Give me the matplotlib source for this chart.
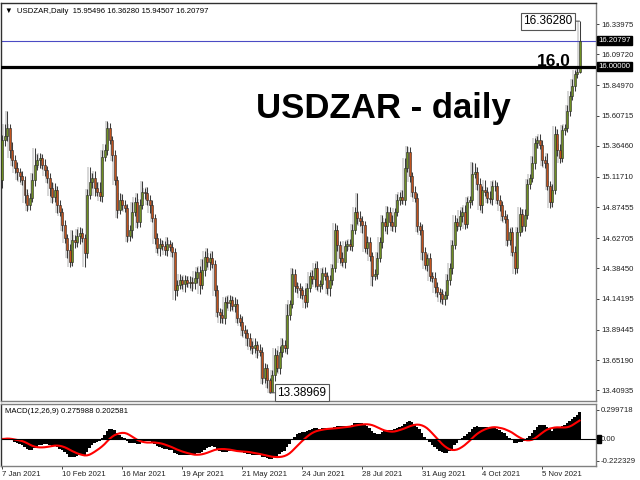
import numpy as np
import pandas as pd
import matplotlib
matplotlib.use("Agg")
import matplotlib.pyplot as plt
from matplotlib import transforms

# Daily closes (USDZAR)
closes = [
    15.412, 15.444, 15.508, 15.332, 15.252, 15.188, 15.156, 15.124, 15.092, 14.972,
    14.892, 14.948, 15.092, 15.212, 15.252, 15.268, 15.212, 15.172, 15.108, 15.028,
    14.956, 15.012, 14.892, 14.836, 14.732, 14.628, 14.532, 14.436, 14.612, 14.596,
    14.644, 14.668, 14.628, 14.508, 14.972, 15.076, 15.108, 15.028, 14.996, 14.964,
    15.276, 15.332, 15.508, 15.412, 15.292, 15.092, 14.852, 14.932, 14.892, 14.868,
    14.644, 14.692, 14.836, 14.916, 14.756, 14.892, 14.996, 14.988, 14.932, 14.892,
    14.788, 14.628, 14.548, 14.580, 14.564, 14.532, 14.580, 14.556, 14.516, 14.212,
    14.252, 14.292, 14.260, 14.292, 14.268, 14.276,
    14.268, 14.308, 14.356, 14.252, 14.372, 14.476, 14.436, 14.468, 14.420, 14.212,
    14.036, 14.012, 13.988, 14.116, 14.108, 14.132, 14.084, 14.100, 13.988, 13.956,
    13.892, 13.868, 13.828, 13.764, 13.748, 13.772, 13.732, 13.716, 13.508, 13.588,
    13.492, 13.400, 13.532, 13.692, 13.588, 13.716, 13.772, 13.748, 14.012,
    14.100, 14.340, 14.244, 14.228, 14.212, 14.172, 14.116, 14.228, 14.324, 14.300,
    14.388, 14.244, 14.260, 14.348, 14.324, 14.228, 14.292, 14.388, 14.692, 14.572,
    14.468, 14.436, 14.564, 14.580, 14.564, 14.692, 14.836, 14.788, 14.764, 14.732,
    14.548, 14.596, 14.484, 14.324, 14.340, 14.468, 14.596, 14.756, 14.724, 14.836,
    14.756, 14.724, 14.836, 14.932, 14.956, 14.932, 15.188, 15.316, 15.124, 14.996,
    14.948, 14.724, 14.692, 14.516, 14.412, 14.468, 14.324, 14.308, 14.236, 14.196,
    14.180, 14.140, 14.172, 14.292, 14.388, 14.572, 14.756, 14.724, 14.804, 14.836,
    14.740, 14.916, 14.932, 15.140, 15.156, 15.060, 14.892, 15.012, 14.996, 14.948,
    14.940, 15.044,
    15.044, 14.932, 14.892, 14.804, 14.780, 14.612, 14.676, 14.516, 14.388, 14.676,
    14.820, 14.724, 14.812, 15.060, 15.108, 15.228, 15.388, 15.412, 15.372, 15.252,
    15.228, 15.044, 14.916, 15.012, 15.460, 15.332, 15.268, 15.492, 15.508, 15.644,
    15.764, 15.844, 15.940, 15.95496, 16.20797,
]
first_open = 15.092

# wick lengths above / below the body, in hundredths
upper_wick = [
    4, 10, 14, 3, 6, 4, 5, 3, 4, 3, 5, 4, 6, 14, 5, 4, 3, 5, 3, 4,
    5, 6, 3, 4, 3, 4, 3, 5, 8, 4, 6, 5, 4, 3, 5, 12, 4, 6, 5, 8,
    6, 5, 6, 4, 3, 4, 3, 6, 5, 4, 3, 4, 8, 4, 7, 5, 9, 3, 5, 4,
    4, 3, 4, 5, 3, 4, 6, 3, 4, 3, 4, 5, 3, 4, 3, 5, 4, 6, 4, 5,
    9, 5, 7, 4, 6, 3, 4, 3, 5, 4, 5, 4, 3, 6, 4, 3, 5, 4, 3, 4,
    4, 6, 3, 5, 4, 4, 3, 2, 4, 6, 4, 5, 6, 4, 9, 3, 5, 4, 3, 4,
    3, 6, 4, 3, 5, 4, 6, 3, 4, 5, 3, 4, 3, 6, 4, 3, 5, 4, 3, 4,
    5, 4, 15, 6, 4, 3, 5, 4, 3, 4, 5, 4, 6, 3, 5, 4, 6, 3, 5, 4,
    6, 8, 5, 4, 3, 5, 4, 3, 5, 4, 3, 4, 3, 5, 4, 3, 4, 3, 5, 4,
    4, 6, 3, 5, 4, 6, 4, 3, 10, 7, 4, 5, 3, 8, 4, 6, 4, 5, 3, 4,
    3, 5, 4, 3, 4, 5, 4, 6, 4, 5, 4, 3, 6, 4, 3, 5, 4, 3, 8, 4,
    5, 6, 4, 5, 4, 3, 5, 4, 6, 3, 4, 15.483,
]
lower_wick = [
    6, 5, 4, 6, 5, 4, 6, 5, 4, 6, 5, 4, 3, 5, 4, 6, 3, 5, 4, 6,
    5, 4, 6, 3, 5, 4, 6, 4, 3, 5, 4, 6, 3, 11, 4, 3, 5, 6, 3, 4,
    5, 3, 4, 3, 5, 4, 6, 3, 4, 3, 5, 4, 6, 3, 5, 4, 3, 5, 4, 6,
    3, 5, 4, 6, 3, 4, 5, 3, 4, 8, 5, 3, 4, 6, 3, 4, 6, 5, 4, 7,
    3, 5, 4, 6, 3, 5, 4, 6, 4, 5, 4, 6, 3, 5, 4, 3, 5, 4, 6, 3,
    5, 4, 6, 3, 5, 4, 6, 1.031, 0.5, 5, 3, 5, 4, 3, 5, 4, 3, 5, 4, 6,
    3, 5, 4, 3, 4, 6, 3, 5, 4, 3, 5, 6, 4, 3, 5, 4, 3, 5, 4, 3,
    4, 3, 5, 4, 6, 3, 5, 4, 8, 3, 4, 3, 5, 4, 6, 3, 4, 5, 3, 4,
    3, 4, 3, 5, 4, 3, 5, 4, 6, 3, 5, 4, 3, 5, 4, 6, 4, 5, 3, 4,
    5, 3, 4, 3, 5, 4, 3, 5, 4, 3, 5, 4, 6, 3, 4, 3, 5, 4, 3, 5,
    4, 3, 5, 4, 3, 5, 4, 3, 5, 4, 3, 4, 3, 5, 4, 3, 5, 4, 3, 5,
    4, 3, 5, 4, 3, 4, 3, 4, 3, 4, 3, 0.989,
]

date_labels = ["7 Jan 2021", "10 Feb 2021", "16 Mar 2021", "19 Apr 2021", "21 May 2021",
               "24 Jun 2021", "28 Jul 2021", "31 Aug 2021", "4 Oct 2021", "5 Nov 2021"]
date_bars = [0, 24, 48, 72, 96, 120, 144, 168, 192, 216]

price_ticks = [16.33975, 16.09720, 15.84970, 15.60715, 15.36460, 15.11710, 14.87455,
               14.62705, 14.38450, 14.14195, 13.89445, 13.65190, 13.40935]
bid_line = 16.20797
level_line = 16.0
macd_max_label = 0.299718
macd_min_label = -0.222329
macd_shown = (0.275988, 0.202581)   # values printed in the indicator header

# build OHLC
close = np.array(closes)
opn = np.concatenate([[first_open], close[:-1]])
top = np.maximum(opn, close)
bot = np.minimum(opn, close)
high = top + np.array(upper_wick) / 100
low = bot - np.array(lower_wick) / 100
x = np.arange(len(close))
up = close >= opn

# MACD(12,26,9) as in MT4 (signal = SMA of main)
s = pd.Series(close)
macd = s.ewm(span=12, adjust=False).mean() - s.ewm(span=26, adjust=False).mean()
signal = macd.rolling(9, min_periods=1).mean()

plt.rcParams['font.family'] = ['Liberation Sans', 'DejaVu Sans']
fig = plt.figure(figsize=(6.4, 4.8), dpi=100)
ax = fig.add_axes([1/640, 1-401/480, 595/640, 398/480])
ax2 = fig.add_axes([1/640, 1-466/480, 595/640, 62/480])

xlim = (-0.4, 237.6)
small = 5.6

# candles: soft grey shade, wick, body
ax.vlines(x - 0.45, low, high, color='#cfcfcf', lw=1.2, zorder=1)
ax.vlines(x, low, high, color='#3c3c3c', lw=0.75, zorder=2)
ax.bar(x[up], top[up]-bot[up], bottom=bot[up], width=0.8, color='#6f8f22',
       edgecolor='#262626', linewidth=0.4, zorder=3)
ax.bar(x[~up], top[~up]-bot[~up], bottom=bot[~up], width=0.8, color='#c2521c',
       edgecolor='#262626', linewidth=0.4, zorder=3)

ax.axhline(bid_line, color='#4b4bc4', lw=0.8, zorder=1)
ax.axhline(level_line, color='black', lw=2.3, zorder=4)

ax.set_xlim(*xlim)
ax.set_ylim(13.324, 16.508)
ax.set_xticks([])
ax.yaxis.tick_right()
ax.set_yticks(price_ticks)
ax.set_yticklabels([f"{v:.5f}" for v in price_ticks])
ax.tick_params(axis='y', labelsize=small, length=2.2, width=0.6, pad=1.5, colors='#222222')
for sp in ax.spines.values():
    sp.set_color('#808080')
    sp.set_linewidth(1.0)
ax.spines['left'].set_color('#303030')
ax.spines['top'].set_color('#303030')

# highlighted price labels on the axis
yt = transforms.blended_transform_factory(ax.transAxes, ax.transData)
for v in (bid_line, level_line):
    ax.text(1.004, v, f"{v:.5f}", transform=yt, fontsize=small, color='white',
            va='center', ha='left', clip_on=False,
            bbox=dict(boxstyle='square,pad=0.15', fc='black', ec='black'))

# header
ax.text(0.006, 0.987,
        f"\u25bc  USDZAR,Daily  {opn[-1]:.5f} {high[-1]:.5f} {low[-1]:.5f} {close[-1]:.5f}",
        transform=ax.transAxes, fontsize=small, va='top', ha='left')

# titles
ax.text(0.643, 0.711, "USDZAR - daily", transform=ax.transAxes, fontsize=25,
        fontweight='bold', ha='center', va='baseline')
ax.text(0.957, level_line + 0.006, "16.0", transform=yt, fontsize=12.5,
        fontweight='bold', ha='right', va='baseline')

# high / low labels
hi_i = int(np.argmax(high))
lo_i = int(np.argmin(low))
ax.annotate(f"{high[hi_i]:.5f}", xy=(hi_i, high[hi_i]), xytext=(-5, 0),
            textcoords='offset points', ha='right', va='center', fontsize=8.5,
            bbox=dict(boxstyle='square,pad=0.2', fc='white', ec='#555555', lw=0.8),
            arrowprops=dict(arrowstyle='-', color='#555555', lw=0.8, shrinkA=0, shrinkB=0))
ax.annotate(f"{low[lo_i]:.5f}", xy=(lo_i, low[lo_i]), xytext=(5.5, 0),
            textcoords='offset points', ha='left', va='center', fontsize=8.5,
            bbox=dict(boxstyle='square,pad=0.2', fc='white', ec='#555555', lw=0.8),
            arrowprops=dict(arrowstyle='-', color='#555555', lw=0.8, shrinkA=0, shrinkB=0),
            zorder=6, annotation_clip=False)

# MACD panel
ax2.bar(x, macd, width=1.0, color='black', linewidth=0)
ax2.plot(x, signal, color='#ff0000', lw=1.5)
ax2.axhline(0, color='black', lw=0.8)
ax2.set_xlim(*xlim)
ax2.set_ylim(-0.278, 0.36)
ax2.yaxis.tick_right()
ax2.set_yticks([macd_max_label, 0.0, macd_min_label])
ax2.set_yticklabels([f"{macd_max_label:.6f}", "0.00", f"{macd_min_label:.6f}"])
ax2.tick_params(axis='y', labelsize=small, length=2.2, width=0.6, pad=1.5, colors='#222222')
ax2.set_xticks(date_bars)
ax2.set_xticklabels(date_labels, ha='left')
ax2.tick_params(axis='x', labelsize=small, length=2, width=0.6, pad=1.5, colors='#222222')
for sp in ax2.spines.values():
    sp.set_color('#808080')
    sp.set_linewidth(1.0)
ax2.spines['left'].set_color('#303030')
yt2 = transforms.blended_transform_factory(ax2.transAxes, ax2.transData)
ax2.text(1.003, 0.0, " ", transform=yt2, fontsize=small, va='center', ha='left',
         bbox=dict(boxstyle='square,pad=0.1', fc='black', ec='black'), clip_on=False)
ax2.text(0.006, 0.93, f"MACD(12,26,9) {macd_shown[0]:.6f} {macd_shown[1]:.6f}",
         transform=ax2.transAxes, fontsize=small, va='top', ha='left')

fig.savefig("out.png", dpi=100, facecolor='white')
